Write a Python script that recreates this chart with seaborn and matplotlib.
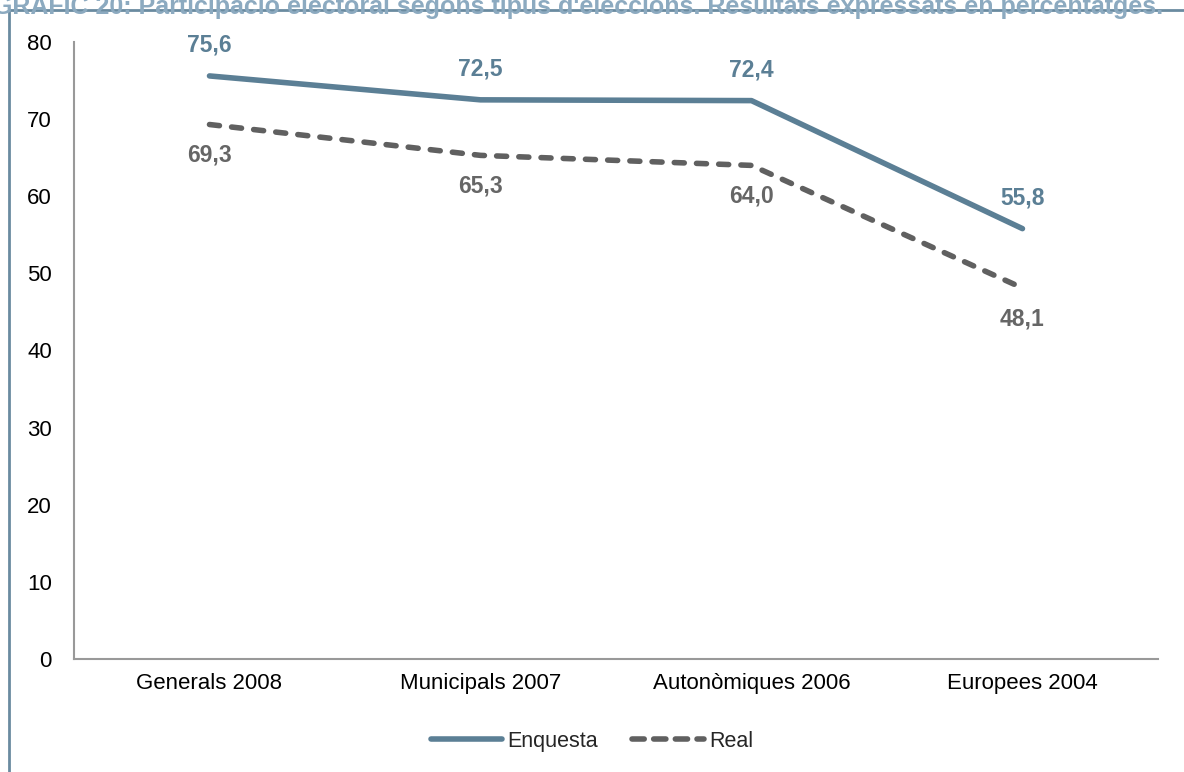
import pandas as pd
import matplotlib.pyplot as plt
import seaborn as sns
from matplotlib.lines import Line2D

# Data
eleccions = ['Generals 2008', 'Municipals 2007', 'Autonòmiques 2006', 'Europees 2004']
enquesta = [75.6, 72.5, 72.4, 55.8]
real = [69.3, 65.3, 64.0, 48.1]
yticks = [0, 10, 20, 30, 40, 50, 60, 70, 80]

title = "GRÀFIC 20: Participació electoral segons tipus d'eleccions. Resultats expressats en percentatges."

blue = '#5B7F95'
grey = '#606060'

df = pd.DataFrame({
    'Eleccions': eleccions * 2,
    'Valor': enquesta + real,
    'Serie': ['Enquesta'] * 4 + ['Real'] * 4,
})

sns.set_style('white')
plt.rcParams['font.family'] = ['Liberation Sans', 'DejaVu Sans']

fig = plt.figure(figsize=(11.84, 7.72), dpi=100)
ax = fig.add_axes([0.0625, 0.1464, 0.9155, 0.7992])

sns.lineplot(data=df, x='Eleccions', y='Valor', hue='Serie', style='Serie',
             palette={'Enquesta': blue, 'Real': grey},
             dashes={'Enquesta': '', 'Real': (1.8, 2.2)},
             linewidth=4, sort=False, legend=False, ax=ax)
for ln in ax.get_lines():
    ln.set_solid_capstyle('round')
    ln.set_dash_capstyle('round')

# data labels
for i, v in enumerate(enquesta):
    ax.annotate(f'{v:.1f}'.replace('.', ','), (i, v), xytext=(0, 22), textcoords='offset points',
                ha='center', va='center', fontsize=16.5, fontweight='bold', color=blue)
for i, v in enumerate(real):
    ax.annotate(f'{v:.1f}'.replace('.', ','), (i, v), xytext=(0, -22), textcoords='offset points',
                ha='center', va='center', fontsize=16.5, fontweight='bold', color='#666666')

ax.set_xlim(-0.5, len(eleccions) - 0.5)
ax.set_ylim(0, 80)
ax.set_yticks(yticks)
ax.set_xlabel('')
ax.set_ylabel('')
ax.tick_params(axis='both', length=0, labelsize=16, colors='black')
ax.tick_params(axis='y', pad=16)
ax.tick_params(axis='x', pad=10)
for s in ['top', 'right']:
    ax.spines[s].set_visible(False)
for s in ['left', 'bottom']:
    ax.spines[s].set_color('#999999')
    ax.spines[s].set_linewidth(1.5)

handles = [Line2D([], [], color=blue, lw=4, solid_capstyle='round'),
           Line2D([], [], color=grey, lw=4, dashes=(2.2, 1.7), dash_capstyle='round')]
fig.legend(handles, ['Enquesta', 'Real'], loc='center', bbox_to_anchor=(0.5, 0.04),
           ncol=2, frameon=False, fontsize=15.5, handlelength=3.3, handletextpad=0.25,
           columnspacing=1.6)

# frame lines of the original document
fig.add_artist(Line2D([9 / 1184, 1], [1 - 10 / 772, 1 - 10 / 772], color='#6A8BA0', lw=2,
                      transform=fig.transFigure))
fig.add_artist(Line2D([9 / 1184, 9 / 1184], [0, 1 - 10 / 772], color='#6A8BA0', lw=2,
                      transform=fig.transFigure))

# clipped title
fig.text(-0.006, 1 - 14 / 772, title, fontsize=18, fontweight='bold', color='#8CAAC0',
         ha='left', va='baseline')

fig.savefig('out.png', dpi=100)
